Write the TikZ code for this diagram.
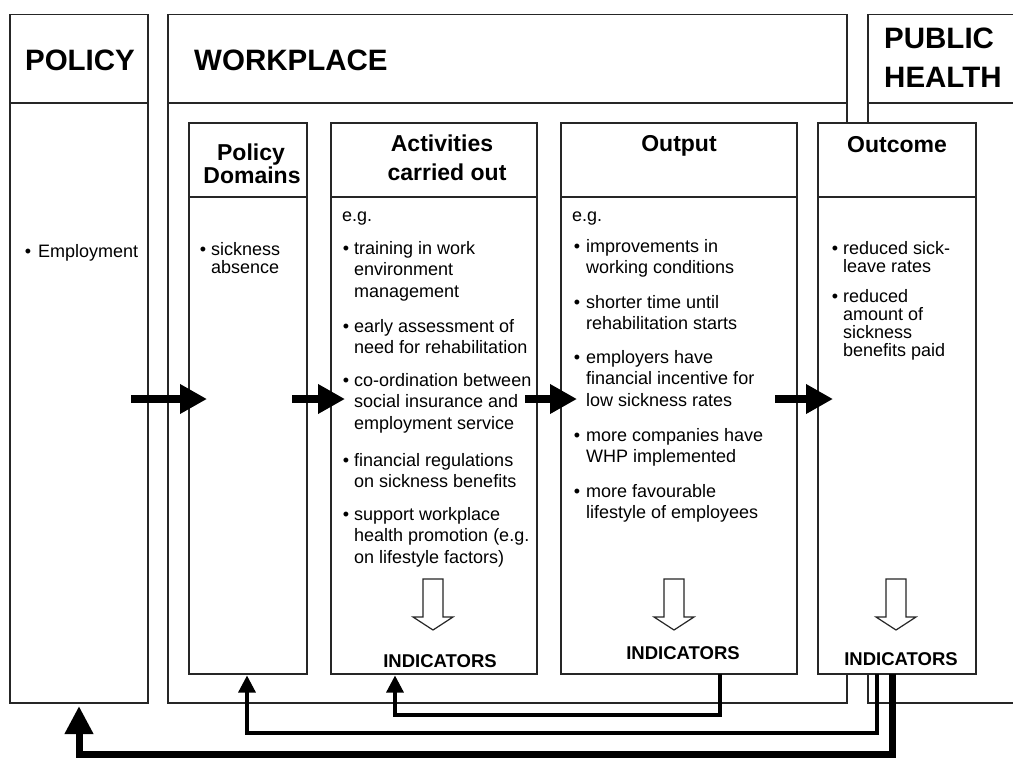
\documentclass[tikz,border=0pt]{standalone}
\usepackage{fontspec}
\setmainfont{Liberation Sans}
\usetikzlibrary{arrows.meta}
\newcommand\mlines[1]{\begin{tabular}[t]{@{}l@{}}#1\end{tabular}}
\begin{document}
\begin{tikzpicture}[x=1pt,y=-1pt,
  box/.style={draw=black!85, line width=1.3pt, fill=white, rectangle, anchor=north west, inner sep=0pt, outer sep=0pt},
  divline/.style={draw=black!85, line width=1.3pt},
  bighdr/.style={font=\fontsize{29.5}{34}\selectfont\bfseries, inner sep=0pt},
  subhdr/.style={font=\fontsize{23}{26}\selectfont\bfseries, inner sep=0pt, anchor=base},
  indic/.style={font=\fontsize{18.5}{22}\selectfont\bfseries, inner sep=0pt, anchor=base},
  body/.style={font=\fontsize{18}{21.7}\selectfont, inner sep=0pt, anchor=base west},
  tight/.style={font=\fontsize{18}{17.6}\selectfont, inner sep=0pt, anchor=base west},
  bul/.style={font=\fontsize{18}{21.7}\selectfont, inner sep=0pt, anchor=base},
  bigarrow/.style={line width=8pt, -{Triangle[width=28pt,length=27pt]}},
  fbthin/.style={line width=3.2pt, -{Triangle[width=17pt,length=17pt]}},
  fbthick/.style={line width=7pt, -{Triangle[width=27pt,length=28pt]}},
  hollowarr/.pic={\draw[line width=1.2pt, draw=black!85, fill=white]
     (-10,0) -- (10,0) -- (10,38) -- (20,38) -- (0,51) -- (-20,38) -- (-10,38) -- cycle;}
]
\useasboundingbox (0,0) rectangle (1013,758);
\clip (0,0) rectangle (1013,758);

% outer columns
\node[box, minimum width=138pt, minimum height=688.5pt] (policybox) at (10,14.5) {};
\draw[divline] ([yshift=-88.5pt]policybox.north west) -- ([yshift=-88.5pt]policybox.north east);
\node[box, minimum width=679pt, minimum height=688.5pt] (workbox) at (168,14.5) {};
\draw[divline] ([yshift=-88.5pt]workbox.north west) -- ([yshift=-88.5pt]workbox.north east);
\node[box, minimum width=170pt, minimum height=688.5pt] (phbox) at (868,14.5) {};
\draw[divline] ([yshift=-88.5pt]phbox.north west) -- ([yshift=-88.5pt]phbox.north east);

\node[bighdr, anchor=base] (policyT) at (80,70.7) {POLICY};
\node[bighdr, anchor=base west] (workT) at (194,70.7) {WORKPLACE};
\node[bighdr, anchor=base west] (phT1) at (884,48) {PUBLIC};
\node[bighdr, anchor=base west] (phT2) at (884,87) {HEALTH};

% inner boxes
\node[box, minimum width=118pt, minimum height=551pt] (domains) at (189,123) {};
\draw[divline] ([yshift=-74pt]domains.north west) -- ([yshift=-74pt]domains.north east);
\node[box, minimum width=206pt, minimum height=551pt] (activities) at (331,123) {};
\draw[divline] ([yshift=-74pt]activities.north west) -- ([yshift=-74pt]activities.north east);
\node[box, minimum width=236pt, minimum height=551pt] (output) at (561,123) {};
\draw[divline] ([yshift=-74pt]output.north west) -- ([yshift=-74pt]output.north east);
\node[box, minimum width=158pt, minimum height=551pt] (outcome) at (818,123) {};
\draw[divline] ([yshift=-74pt]outcome.north west) -- ([yshift=-74pt]outcome.north east);

\node[subhdr] (domT1) at (251,160) {Policy};
\node[subhdr] (domT2) at (252,183) {Domains};
\node[subhdr] (actT1) at (442,151) {Activities};
\node[subhdr] (actT2) at (447,180) {carried out};
\node[subhdr] (outT) at (679,151) {Output};
\node[subhdr] (ocT) at (897,152) {Outcome};

% policy text
\node[bul] (pb1) at (28,257) {\textbullet};
\node[body] (pt1) at (38,257) {Employment};

% domains text
\node[bul] (db1) at (203,255) {\textbullet};
\node[tight] (dt1) at (211,255) {\mlines{sickness\\absence}};

% activities text
\node[body] (aeg) at (342,221) {e.g.};
\node[bul] (ab1) at (346,254) {\textbullet};
\node[body] (at1) at (354,254) {\mlines{training in work\\environment\\management}};
\node[bul] (ab2) at (346,332) {\textbullet};
\node[body] (at2) at (354,332) {\mlines{early assessment of\\need for rehabilitation}};
\node[bul] (ab3) at (346,386) {\textbullet};
\node[body] (at3) at (354,386) {\mlines{co-ordination between\\social insurance and\\employment service}};
\node[bul] (ab4) at (346,466) {\textbullet};
\node[body] (at4) at (354,466) {\mlines{financial regulations\\on sickness benefits}};
\node[bul] (ab5) at (346,520) {\textbullet};
\node[body] (at5) at (354,520) {\mlines{support workplace\\health promotion (e.g.\\on lifestyle factors)}};

% output text
\node[body] (oeg) at (572,221) {e.g.};
\node[bul] (ob1) at (577,252) {\textbullet};
\node[body] (ot1) at (586,252) {\mlines{improvements in\\working conditions}};
\node[bul] (ob2) at (577,308) {\textbullet};
\node[body] (ot2) at (586,308) {\mlines{shorter time until\\rehabilitation starts}};
\node[bul] (ob3) at (577,363) {\textbullet};
\node[body] (ot3) at (586,363) {\mlines{employers have\\financial incentive for\\low sickness rates}};
\node[bul] (ob4) at (577,441) {\textbullet};
\node[body] (ot4) at (586,441) {\mlines{more companies have\\WHP implemented}};
\node[bul] (ob5) at (577,497) {\textbullet};
\node[body] (ot5) at (586,497) {\mlines{more favourable\\lifestyle of employees}};

% outcome text
\node[bul] (cb1) at (835,254) {\textbullet};
\node[tight] (ct1) at (843,254) {\mlines{reduced sick-\\leave rates}};
\node[bul] (cb2) at (835,302) {\textbullet};
\node[tight] (ct2) at (843,302) {\mlines{reduced\\amount of\\sickness\\benefits paid}};

% hollow arrows and indicators
\pic at (433,579) {hollowarr};
\pic at (674,579) {hollowarr};
\pic at (896,579) {hollowarr};
\node[indic] (ai) at (440,667) {INDICATORS};
\node[indic] (oi) at (683,659) {INDICATORS};
\node[indic] (ci) at (901,665) {INDICATORS};

% horizontal flow arrows
\coordinate (h1s) at (131,399); \coordinate (h1e) at (207,399);
\coordinate (h2s) at (292,399); \coordinate (h2e) at (345,399);
\coordinate (h3s) at (525,399); \coordinate (h3e) at (577,399);
\coordinate (h4s) at (775,399); \coordinate (h4e) at (833,399);
\draw[bigarrow] (h1s) -- (h1e);
\draw[bigarrow] (h2s) -- (h2e);
\draw[bigarrow] (h3s) -- (h3e);
\draw[bigarrow] (h4s) -- (h4e);

% feedback loops
\coordinate (outS) at (720,674);
\coordinate (actIn) at (395,675.5);
\coordinate (ocS1) at (877,674);
\coordinate (domIn) at (247,675.5);
\coordinate (ocS2) at (892,674);
\coordinate (polIn) at (79,706);
\draw[fbthin] (outS) |- ([yshift=-39.5pt]actIn) -- (actIn);
\draw[fbthin] (ocS1) |- ([yshift=-57.5pt]domIn) -- (domIn);
\draw[fbthick] (ocS2) |- ([yshift=-48.5pt]polIn) -- (polIn);
\end{tikzpicture}
\end{document}
